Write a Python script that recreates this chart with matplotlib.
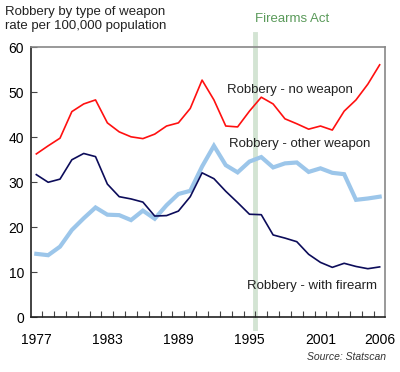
import numpy as np
import matplotlib
matplotlib.use("Agg")
import matplotlib.pyplot as plt

years = list(range(1977, 2007))

no_weapon = [36.3, 38.1, 39.8, 45.7, 47.4, 48.3, 43.2, 41.2, 40.1, 39.7,
             40.7, 42.5, 43.2, 46.4, 52.7, 48.3, 42.5, 42.3, 45.8, 48.9,
             47.4, 44.1, 43.0, 41.8, 42.5, 41.6, 45.8, 48.3, 51.8, 56.1]

other_weapon = [14.1, 13.8, 15.7, 19.4, 22.0, 24.4, 22.8, 22.7, 21.6, 23.7,
                21.9, 24.9, 27.4, 28.1, 33.5, 38.1, 33.8, 32.2, 34.6, 35.6,
                33.3, 34.2, 34.4, 32.3, 33.1, 32.1, 31.8, 26.1, 26.4, 26.8]

with_firearm = [31.7, 30.0, 30.7, 35.0, 36.4, 35.7, 29.6, 26.8, 26.3, 25.6,
                22.5, 22.6, 23.6, 26.8, 32.1, 30.8, 28.0, 25.5, 22.9, 22.8,
                18.3, 17.6, 16.8, 14.0, 12.2, 11.1, 12.0, 11.3, 10.8, 11.2]

xtick_years = [1977, 1983, 1989, 1995, 2001, 2006]
yticks = [0, 10, 20, 30, 40, 50, 60]
act_year = 1995.5

plt.rcParams['font.family'] = ['Liberation Sans', 'DejaVu Sans']

fig = plt.figure(figsize=(4, 3.72), dpi=100)
ax = fig.add_axes([0.0775, 0.147, 0.885, 0.726])

# Firearms Act marker, runs a bit past the frame
ax.axvline(act_year, ymin=-0.04, ymax=1.05, color='#d3e4d3', lw=3.5,
           clip_on=False, zorder=1)

ax.plot(years, no_weapon, color='#ff1010', lw=1.2, zorder=3)
ax.plot(years, other_weapon, color='#9cc6ea', lw=3.0, zorder=2,
        solid_joinstyle='miter')
ax.plot(years, with_firearm, color='#0c0c5a', lw=1.2, zorder=3)

ax.set_xlim(1976.55, 2006.45)
ax.set_ylim(0, 60)

ax.set_yticks(yticks)
ax.set_yticklabels([str(v) for v in yticks], fontsize=10)
ax.tick_params(axis='y', direction='in', length=4, width=0.8, color='#444444', pad=5)

ax.set_xticks(xtick_years)
ax.set_xticklabels([str(y) for y in xtick_years], fontsize=10)
ax.tick_params(axis='x', length=0, pad=11)
ax.set_xticks(np.arange(1977.5, 2006, 1), minor=True)
ax.tick_params(axis='x', which='minor', direction='in', length=4, width=0.8,
               color='#444444')

for side in ['left', 'bottom']:
    ax.spines[side].set_color('#222222')
    ax.spines[side].set_linewidth(1.2)
for side in ['top', 'right']:
    ax.spines[side].set_color('#888888')
    ax.spines[side].set_linewidth(1.2)

ax.text(1993.1, 50.5, 'Robbery - no weapon', fontsize=9.5, color='#222222', va='center')
ax.text(1993.3, 38.6, 'Robbery - other weapon', fontsize=9.5, color='#222222', va='center')
ax.text(1994.8, 7.0, 'Robbery - with firearm', fontsize=9.5, color='#222222', va='center')

fig.text(5 / 400, 1 - 12 / 372, 'Robbery by type of weapon', fontsize=9.5,
         color='#222222', va='center')
fig.text(5 / 400, 1 - 26 / 372, 'rate per 100,000 population', fontsize=9.5,
         color='#222222', va='center')
fig.text(255 / 400, 1 - 19 / 372, 'Firearms Act', fontsize=9.5,
         color='#5a9a5a', va='center')
fig.text(386 / 400, 1 - 357 / 372, 'Source: Statscan', fontsize=7.5,
         style='italic', color='#333333', va='center', ha='right')

fig.savefig('out.png', dpi=100)
